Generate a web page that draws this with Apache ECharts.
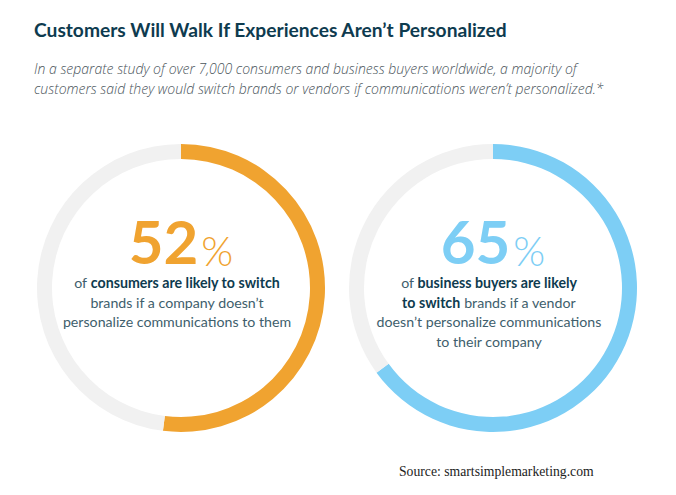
<!DOCTYPE html>
<html><head><meta charset="utf-8">
<script src="https://cdn.jsdelivr.net/npm/echarts@6/dist/echarts.min.js"></script>
<style>html,body{margin:0;padding:0;background:#fff}#c{width:676px;height:495px}</style>
</head><body><div id="c"></div>
<script>
const categories = ['consumers', 'business buyers'];
const values = [52, 65];
const colors = ['#F0A330', '#7DCEF5'];
const trackColor = '#F1F1F1';
const titleText = 'Customers Will Walk If Experiences Aren\u2019t Personalized';
const subtitleLines = [
  'In a separate study of over 7,000 consumers and business buyers worldwide, a majority of',
  'customers said they would switch brands or vendors if communications weren\u2019t personalized.*'
];
const sourceText = 'Source: smartsimplemarketing.com';
const bodyTexts = [
  '{n|of }{b|consumers are likely to switch}\n{n|brands if a company doesn\u2019t}\n{n|personalize communications to them}',
  '{n|of }{b|business buyers are likely}\n{b|to switch}{n| brands if a vendor}\n{n|doesn\u2019t personalize communications}\n{n|to their company}'
];

const centers = [[181, 288], [493, 288]];
const chart = echarts.init(document.getElementById('c'), null, {renderer: 'svg'});

const series = values.map((v, i) => ({
  type: 'pie',
  name: categories[i],
  center: centers[i],
  radius: [129, 144],
  startAngle: 90,
  clockwise: true,
  silent: true,
  label: {show: false},
  labelLine: {show: false},
  data: [
    {value: v, name: categories[i], itemStyle: {color: colors[i]}},
    {value: 100 - v, name: 'other', itemStyle: {color: trackColor}}
  ]
}));

const graphics = [
  {type: 'text', left: 34, top: 20, style: {text: titleText, font: 'bold 19.2px Lato', fill: '#0E3B4F'}},
  {type: 'text', left: 34, top: 58, style: {text: subtitleLines.join('\n'), font: 'italic 300 14px "Open Sans"', fill: '#4A555B', lineHeight: 20}},
  {type: 'text', left: 399, top: 464, style: {text: sourceText, font: '13.7px "Liberation Serif"', fill: '#222'}}
];
values.forEach((v, i) => {
  const cx = centers[i][0];
  graphics.push({
    type: 'text', x: cx, y: 271,
    style: {
      text: '{num|' + v + '}{pct|%}',
      align: 'center', verticalAlign: 'bottom',
      rich: {
        num: {font: 'bold 60px Lato', fill: colors[i], lineHeight: 48, verticalAlign: 'bottom'},
        pct: {font: '300 41px Lato', fill: colors[i], lineHeight: 48, padding: [0, 0, 0, 3], verticalAlign: 'bottom'}
      }
    }
  });
  graphics.push({
    type: 'text', x: cx - 4, y: 273,
    style: {
      text: bodyTexts[i],
      align: 'center', verticalAlign: 'top',
      rich: {
        n: {font: '14.2px Lato', fill: '#3E5E6C', lineHeight: 19.5},
        b: {font: 'bold 14.2px Lato', fill: '#0E3B4F', lineHeight: 19.5}
      }
    }
  });
});

chart.setOption({
  backgroundColor: '#fff',
  animation: false,
  series: series,
  graphic: graphics
});
</script></body></html>
